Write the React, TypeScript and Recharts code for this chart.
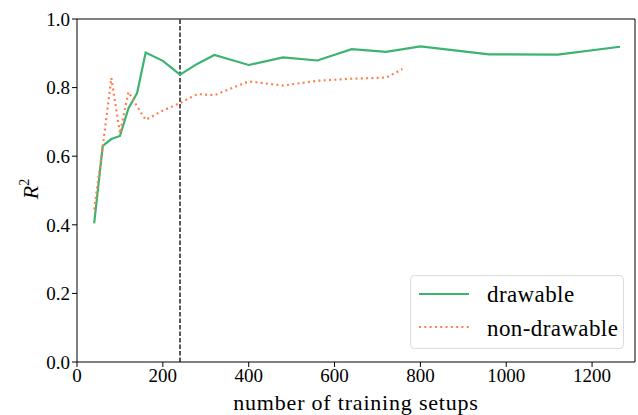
import React from 'react';
import { LineChart, Line, XAxis, YAxis, ReferenceLine } from 'recharts';

const FONT = "'Liberation Serif', 'DejaVu Serif', serif";

// number of training setups
const drawableX = [40, 60, 80, 100, 120, 140, 160, 200, 240, 280, 320, 400, 480, 560, 640, 720, 800, 960, 1120, 1265];
const drawableR2 = [0.404, 0.63, 0.65, 0.659, 0.74, 0.784, 0.902, 0.878, 0.838, 0.869, 0.895, 0.866, 0.888, 0.879, 0.912, 0.904, 0.92, 0.897, 0.896, 0.919];

const nonDrawableX = [40, 60, 80, 100, 120, 140, 160, 200, 240, 280, 320, 400, 480, 560, 640, 720, 758];
const nonDrawableR2 = [0.445, 0.628, 0.828, 0.667, 0.787, 0.745, 0.706, 0.733, 0.755, 0.781, 0.778, 0.818, 0.806, 0.82, 0.826, 0.829, 0.854];

const xTicks = [0, 200, 400, 600, 800, 1000, 1200];
const yTicks = [0, 0.2, 0.4, 0.6, 0.8, 1.0];
const splitAt = 240;

const drawable = drawableX.map((x, i) => ({ x, r2: drawableR2[i] }));
const nonDrawable = nonDrawableX.map((x, i) => ({ x, r2: nonDrawableR2[i] }));

const GREEN = '#3cb371';
const CORAL = '#ff7f50';
const DOTS = '2 3.3';

const legendItems = [
  { name: 'drawable', color: GREEN, dash: undefined },
  { name: 'non-drawable', color: CORAL, dash: DOTS },
];

// legend drawn as an overlay in the lower right corner of the axes
const LegendBox = () => (
  <svg width={215} height={76} style={{ position: 'absolute', left: 410, top: 275 }}>
    <rect x={0.5} y={0.5} width={213} height={73} rx={4} fill="#fff" stroke="#dcdcdc" />
    {legendItems.map((item, i) => (
      <g key={item.name}>
        <line x1={9} x2={59} y1={19 + i * 33} y2={19 + i * 33} stroke={item.color} strokeWidth={2.2} strokeDasharray={item.dash} />
        <text x={77} y={27 + i * 33.5} style={{ fontFamily: FONT }} fontSize={23} letterSpacing={0.4} fill="#000">
          {item.name}
        </text>
      </g>
    ))}
  </svg>
);

const YLabel = () => (
  <text x={0} y={0} transform="translate(38,189) rotate(-90)" textAnchor="middle" style={{ fontFamily: FONT }} fontSize={22} fill="#000">
    <tspan fontStyle="italic">R</tspan>
    <tspan fontSize={14} dy={-9}>2</tspan>
  </text>
);

export default function App() {
  return (
    <div style={{ position: 'absolute', left: 0, top: 0, width: 638, height: 415, background: '#fff', fontFamily: FONT }}>
      <LineChart width={638} height={415} margin={{ top: 19, right: 3, bottom: 0, left: 0 }}>
        <XAxis
          type="number"
          dataKey="x"
          domain={[0, 1300]}
          ticks={xTicks}
          allowDataOverflow
          height={53}
          tickSize={5}
          tickMargin={2}
          stroke="#000"
          tick={{ fill: '#000', fontSize: 19, style: { fontFamily: FONT } }}
          label={{ value: 'number of training setups', position: 'insideBottom', offset: 5, fill: '#000', fontSize: 22, style: { fontFamily: FONT }, letterSpacing: 0.8 }}
        />
        <YAxis
          type="number"
          domain={[0, 1]}
          ticks={yTicks}
          width={77}
          tickSize={5}
          tickMargin={2}
          stroke="#000"
          tickFormatter={(v: number) => v.toFixed(1)}
          tick={{ fill: '#000', fontSize: 19, style: { fontFamily: FONT } }}
          label={<YLabel />}
        />
        <ReferenceLine y={1} stroke="#000" strokeWidth={1} />
        <ReferenceLine x={1300} stroke="#000" strokeWidth={1} />
        <ReferenceLine x={splitAt} stroke="#000" strokeWidth={1.3} strokeDasharray="4.5 2" />
        <Line
          data={drawable}
          dataKey="r2"
          name="drawable"
          stroke={GREEN}
          strokeWidth={2.2}
          dot={false}
          type="linear"
          isAnimationActive={false}
        />
        <Line
          data={nonDrawable}
          dataKey="r2"
          name="non-drawable"
          stroke={CORAL}
          strokeWidth={2.2}
          strokeDasharray={DOTS}
          dot={false}
          type="linear"
          isAnimationActive={false}
        />
      </LineChart>
      <LegendBox />
    </div>
  );
}
